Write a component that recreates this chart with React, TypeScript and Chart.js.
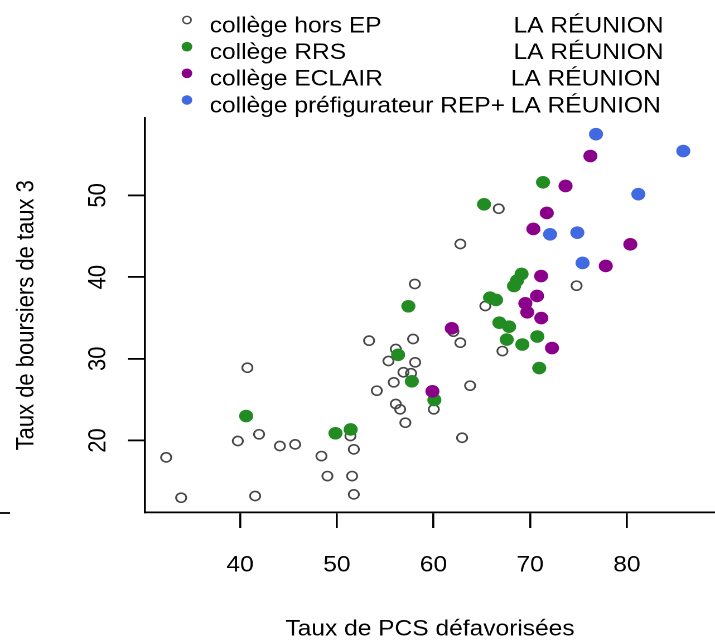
import React, { useEffect, useRef } from "react";
import { Chart, registerables } from "chart.js";

Chart.register(...registerables);

// ---- data ----
const xTicks = [40, 50, 60, 70, 80];
const yTicks = [20, 30, 40, 50];
const xTitle = "Taux de PCS défavorisées";
const yTitle = "Taux de boursiers de taux 3";
const seriesNames = [
  "collège hors EP",
  "collège RRS",
  "collège ECLAIR",
  "collège préfigurateur REP+",
];
const regionLabel = "LA RÉUNION";

const horsEpX = [
  53.34, 57.89, 56.1, 55.34, 58.1, 56.89, 57.68, 55.89, 54.14, 56.1, 56.55, 57.09,
  60.03, 63.79, 62.78, 62.06, 67.13, 62.96, 51.41, 51.76, 51.58, 51.76, 49.03,
  40.75, 41.96, 39.76, 44.11, 45.69, 32.35, 48.41, 33.9, 41.55, 66.75, 62.78,
  58.07, 74.8, 65.36,
];
const horsEpY = [
  32.22, 32.42, 31.2, 29.73, 29.57, 28.35, 28.23, 27.12, 26.1, 24.47, 23.82, 22.18,
  23.82, 26.71, 31.97, 33.32, 30.95, 20.34, 20.55, 18.92, 15.65, 13.41, 15.65,
  28.91, 20.76, 19.94, 19.33, 19.53, 17.94, 18.1, 13.0, 13.21, 48.37, 44.05,
  39.16, 38.95, 36.46,
];

const rrsX = [
  71.33, 65.23, 69.11, 68.64, 68.33, 65.85, 66.47, 57.4, 66.81, 67.82, 67.58, 69.19,
  70.74, 70.94, 56.34, 57.76, 60.09, 51.43, 49.86, 40.62,
];
const rrsY = [
  51.6, 48.91, 40.38, 39.58, 38.91, 37.48, 37.2, 36.43, 34.42, 33.93, 32.36, 31.75,
  32.73, 28.87, 30.49, 27.25, 24.96, 21.35, 20.89, 23.0,
];

const eclairX = [
  76.23, 73.66, 71.72, 70.33, 80.36, 77.82, 71.13, 70.71, 69.5, 69.7, 71.15, 61.89,
  72.26, 59.89,
];
const eclairY = [
  54.82, 51.15, 47.85, 45.89, 44.01, 41.36, 40.13, 37.69, 36.79, 35.69, 34.99, 33.73,
  31.32, 26.02,
];

const repX = [76.81, 85.84, 81.19, 72.06, 74.88, 75.42];
const repY = [57.49, 55.43, 50.15, 45.24, 45.44, 41.73];

const colors = ["#474747", "#228B22", "#8B008B", "#4169E1"];

const FONT = "'Liberation Sans', Arial, Helvetica, sans-serif";
const W = 641;
const H = 642;

export default function App() {
  const ref = useRef<HTMLCanvasElement>(null);

  useEffect(() => {
    document.body.style.margin = "0";
    const canvas = ref.current;
    if (!canvas) return;

    const toPts = (xs: number[], ys: number[]) => xs.map((x, i) => ({ x, y: ys[i] }));

    const legendPlugin = {
      id: "rLegend",
      afterDraw(chart: any) {
        const ctx = chart.ctx as CanvasRenderingContext2D;
        ctx.save();
        const symX = 167.6;
        const symY = [20, 46.7, 73.3, 100];
        const textX = 188;
        const base = [32.3, 59, 85.7, 112.3];
        const laX = [460.4, 460.4, 457.9, 457.9];
        ctx.font = `22px ${FONT}`;
        ctx.textBaseline = "alphabetic";
        ctx.textAlign = "left";
        seriesNames.forEach((name, i) => {
          ctx.beginPath();
          if (i === 0) {
            ctx.arc(symX, symY[i], 3.7, 0, Math.PI * 2);
            ctx.lineWidth = 1.4;
            ctx.strokeStyle = colors[0];
            ctx.stroke();
          } else {
            ctx.arc(symX, symY[i], 4.8, 0, Math.PI * 2);
            ctx.fillStyle = colors[i];
            ctx.fill();
          }
          ctx.fillStyle = "#000";
          ctx.fillText(name, textX, base[i]);
          ctx.fillText(regionLabel, laX[i], base[i]);
        });
        // small stray axis fragment at far left
        ctx.beginPath();
        ctx.moveTo(0, 513);
        ctx.lineTo(9, 513);
        ctx.lineWidth = 1.8;
        ctx.strokeStyle = "#000";
        ctx.stroke();
        ctx.restore();
      },
    };

    const tickFont = { family: FONT, size: 22, lineHeight: 1 };

    const chart = new Chart(canvas, {
      type: "scatter",
      data: {
        datasets: [
          {
            label: seriesNames[0],
            data: toPts(horsEpX, horsEpY),
            pointStyle: "circle",
            pointRadius: 4.55,
            pointBorderWidth: 1.6,
            pointBorderColor: colors[0],
            pointBackgroundColor: "rgba(0,0,0,0)",
            order: 4,
          },
          {
            label: seriesNames[1],
            data: toPts(rrsX, rrsY),
            pointStyle: "circle",
            pointRadius: 6.3,
            pointBorderWidth: 0,
            pointBackgroundColor: colors[1],
            order: 3,
          },
          {
            label: seriesNames[2],
            data: toPts(eclairX, eclairY),
            pointStyle: "circle",
            pointRadius: 6.3,
            pointBorderWidth: 0,
            pointBackgroundColor: colors[2],
            order: 2,
          },
          {
            label: seriesNames[3],
            data: toPts(repX, repY),
            pointStyle: "circle",
            pointRadius: 6.3,
            pointBorderWidth: 0,
            pointBackgroundColor: colors[3],
            order: 1,
          },
        ] as any,
      },
      options: {
        animation: false,
        responsive: false,
        devicePixelRatio: 2,
        events: [],
        layout: { autoPadding: false, padding: { top: 118, left: 0, right: 0, bottom: 0 } },
        plugins: {
          legend: { display: false },
          tooltip: { enabled: false },
        },
        scales: {
          x: {
            type: "linear",
            min: 30.16,
            max: 89.12,
            afterBuildTicks: (s: any) => {
              s.ticks = xTicks.map((v) => ({ value: v }));
            },
            afterFit: (s: any) => {
              s.height = 129.5;
            },
            grid: {
              display: true,
              drawOnChartArea: false,
              drawTicks: true,
              tickLength: 15.5,
              tickWidth: 1.8,
              tickColor: "#000",
              color: "#000",
              lineWidth: 1.8,
            },
            border: { display: true, color: "#000", width: 1.8 },
            ticks: {
              color: "#000",
              font: tickFont,
              padding: 26.5,
              maxRotation: 0,
              minRotation: 0,
              autoSkip: false,
            },
            title: {
              display: true,
              text: xTitle,
              color: "#000",
              font: tickFont,
              padding: { top: 0, bottom: 1.7 },
            },
          },
          y: {
            type: "linear",
            min: 11.19,
            max: 59.47,
            afterBuildTicks: (s: any) => {
              s.ticks = yTicks.map((v) => ({ value: v }));
            },
            afterFit: (s: any) => {
              s.width = 130;
            },
            grid: {
              display: true,
              drawOnChartArea: false,
              drawTicks: true,
              tickLength: 15.5,
              tickWidth: 1.8,
              tickColor: "#000",
              color: "#000",
              lineWidth: 1.8,
            },
            border: { display: true, color: "#000", width: 1.8 },
            ticks: {
              color: "#000",
              font: tickFont,
              padding: 14,
              minRotation: 90,
              maxRotation: 90,
              crossAlign: "center",
              autoSkip: false,
            },
            title: {
              display: true,
              text: yTitle,
              color: "#000",
              font: tickFont,
              padding: { top: 13, bottom: 0 },
            },
          },
        },
      } as any,
      plugins: [legendPlugin],
    });

    return () => {
      chart.destroy();
    };
  }, []);

  return (
    <canvas
      ref={ref}
      width={W}
      height={H}
      style={{ width: "715px", height: "642px", display: "block" }}
    />
  );
}
